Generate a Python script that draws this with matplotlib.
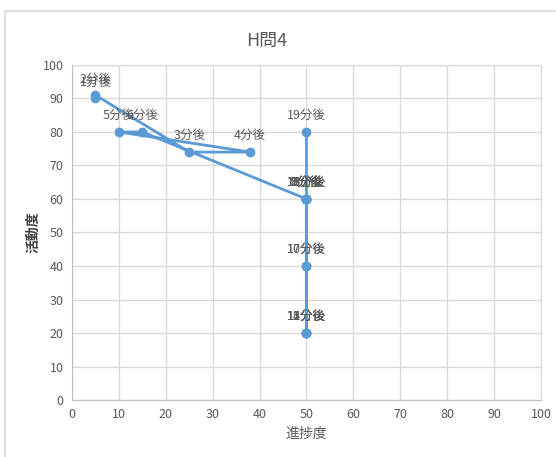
import matplotlib
matplotlib.use('Agg')
import matplotlib.pyplot as plt
from matplotlib.patches import Rectangle

plt.rcParams['font.family'] = ['Noto Sans CJK JP', 'DejaVu Sans']

# progress (x) and activity (y) per minute
minutes = list(range(1, 20))
progress = [5, 5, 25, 38, 10, 15, 50, 50, 50, 50, 50, 50, 50, 50, 50, 50, 50, 50, 50]
activity = [90, 91, 74, 74, 80, 80, 60, 60, 60, 40, 20, 20, 60, 20, 20, 60, 40, 60, 80]
labels = [f'{m}分後' for m in minutes]

line_color = '#5B9BD5'
text_color = '#595959'
grid_color = '#D9D9D9'

fig = plt.figure(figsize=(5.56, 4.57), dpi=100)
ax = fig.add_axes([0.1295, 0.1247, 0.8435, 0.7331])

# chart frame
fig.patches.append(Rectangle((5 / 556, -0.1), 1.2, 1 - 11 / 457 + 0.1,
                             transform=fig.transFigure, fill=False,
                             edgecolor='#D9D9D9', linewidth=1.2))

ax.plot(progress, activity, color=line_color, linewidth=2,
        marker='o', markersize=6, zorder=3)

for x, y, lab in zip(progress, activity, labels):
    ax.annotate(lab, (x, y), xytext=(0, 7), textcoords='offset points',
                ha='center', va='bottom', fontsize=9, color=text_color,
                zorder=4)

ax.set_xlim(0, 100)
ax.set_ylim(0, 100)
ax.set_xticks(range(0, 101, 10))
ax.set_yticks(range(0, 101, 10))
ax.tick_params(length=0, labelsize=9, labelcolor=text_color, pad=6)
ax.grid(True, color=grid_color, linewidth=1)
ax.set_axisbelow(True)
for sp in ax.spines.values():
    sp.set_color(grid_color)
ax.spines['left'].set_color('#BFBFBF')
ax.spines['bottom'].set_color('#BFBFBF')

ax.set_xlabel('進捗度', fontsize=10, color=text_color, labelpad=4)
ax.set_ylabel('活動度', fontsize=10, color='#404040', fontweight='bold',
              labelpad=2)
fig.text(267 / 556, 1 - 41 / 457, 'H問4', ha='center', va='center',
         fontsize=13, color=text_color)

fig.savefig('out.png', dpi=100)
